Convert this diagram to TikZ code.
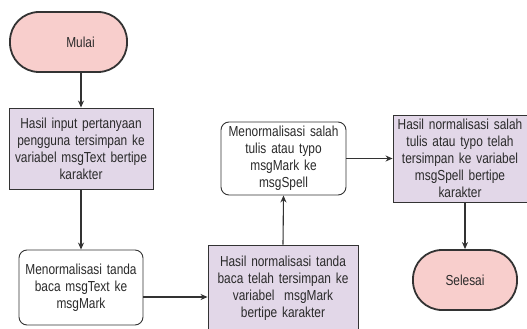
\documentclass[tikz,border=0pt]{standalone}
\usepackage{fontspec}
\setmainfont{Liberation Sans}[FakeStretch=0.82]
\usetikzlibrary{arrows.meta}
\definecolor{termfill}{HTML}{F8CECC}
\definecolor{datafill}{HTML}{E2D7E8}
\definecolor{edge}{HTML}{333333}
\definecolor{ink}{HTML}{2A2A2A}
\tikzset{
  txt/.style={font=\fontsize{14.5}{17}\selectfont, text=ink},
  base/.style={draw=edge, align=center, inner sep=1pt, txt},
  terminal/.style={base, fill=termfill, line width=1.8pt, rounded corners=29pt},
  databox/.style={base, fill=datafill, line width=0.9pt},
  procbox/.style={base, fill=white, line width=0.9pt, rounded corners=8pt},
  flow/.style={draw=edge, line width=1.1pt, -{Stealth[length=7pt,width=6pt]}}
}
\begin{document}
\begin{tikzpicture}[x=1pt,y=-1pt]
\useasboundingbox (0,0) rectangle (527,329);
\fill[white] (0,0) rectangle (527,329);

\node[terminal, minimum width=117pt, minimum height=60pt,
  label={[xshift=12pt,txt]center:Mulai}]
  (mulai) at (68.5,42) {};
\node[databox, minimum width=144pt, minimum height=81pt, text width=142pt]
  (input) at (81,148.5) {Hasil input pertanyaan\\pengguna tersimpan ke\\variabel msgText bertipe\\karakter};
\node[procbox, minimum width=124pt, minimum height=75pt, text width=122pt]
  (normtanda) at (81,287.5) {Menormalisasi tanda\\baca msgText ke\\msgMark};
\node[databox, minimum width=150pt, minimum height=86pt, text width=148pt]
  (hasiltanda) at (283,288) {Hasil normalisasi tanda\\baca telah tersimpan ke\\variabel\ \ msgMark\\bertipe karakter};
\node[procbox, minimum width=125pt, minimum height=73pt, text width=123pt]
  (normtypo) at (283.5,158.5) {Menormalisasi salah\\tulis atau typo\\msgMark ke\\msgSpell};
\node[databox, minimum width=134pt, minimum height=87pt, text width=132pt]
  (hasiltypo) at (460,158.5) {Hasil normalisasi salah\\tulis atau typo telah\\tersimpan ke variabel\\msgSpell bertipe\\karakter};
\node[terminal, minimum width=104pt, minimum height=60pt]
  (selesai) at (465,280) {Selesai};

\draw[flow] (input.north |- mulai.south) -- (input.north);
\draw[flow] (input.south) -- (normtanda.north);
\draw[flow] (normtanda.east |- 0,297) -- (hasiltanda.west |- 0,297);
\draw[flow] (hasiltanda.north) -- (normtypo.south);
\draw[flow] (normtypo.east) -- (hasiltypo.west |- normtypo.east);
\draw[flow] (hasiltypo.south -| selesai.north) -- (selesai.north);
\end{tikzpicture}
\end{document}
